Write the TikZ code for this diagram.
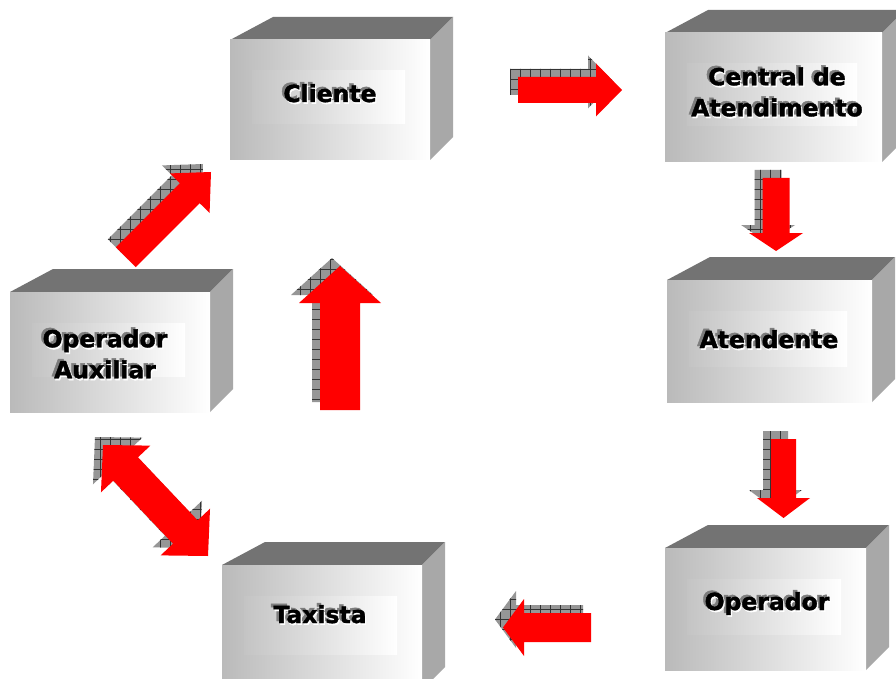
\documentclass[tikz,border=0pt]{standalone}
\usepackage{fontspec}
\setmainfont{DejaVu Sans}
\newfontfamily\lblfont{DejaVu Sans Bold}[FakeBold=1.6]
\usetikzlibrary{calc,patterns}
\pgfdeclarepatternformonly{hgrid}{\pgfpoint{-1pt}{-1pt}}{\pgfpoint{11pt}{11pt}}{\pgfpoint{10pt}{10pt}}{%
  \pgfsetlinewidth{0.7pt}%
  \pgfpathmoveto{\pgfpoint{0pt}{0pt}}\pgfpathlineto{\pgfpoint{10.1pt}{0pt}}%
  \pgfpathmoveto{\pgfpoint{0pt}{0pt}}\pgfpathlineto{\pgfpoint{0pt}{10.1pt}}%
  \pgfusepath{stroke}}
\definecolor{topc}{RGB}{115,115,115}
\definecolor{sidec}{RGB}{168,168,168}
\definecolor{facel}{RGB}{186,186,186}
\definecolor{innerl}{RGB}{196,196,196}
\definecolor{shgray}{RGB}{150,150,150}
\definecolor{txtsh}{RGB}{125,125,125}
\tikzset{
  topface/.style={fill=topc},
  sideface/.style={fill=sidec},
  frontface/.style={left color=facel, right color=white},
  innerface/.style={left color=innerl, right color=white},
  redarr/.style={fill=red},
  arrshadow/.style={fill=shgray, postaction={pattern=hgrid, pattern color=black!80}, transform canvas={shift={(-8pt,8pt)}}},
  lbl/.style={font=\lblfont\fontsize{23.5}{31}\selectfont, align=center, inner sep=0pt},
}
\newcommand\cube[4]{%
  \fill[topface] (#1,#2) -- (#1+43,#2-23) -- (#1+#3+23,#2-23) -- (#1+#3,#2) -- cycle;
  \fill[sideface] (#1+#3,#2) -- (#1+#3+23,#2-23) -- (#1+#3+23,#2+#4-23) -- (#1+#3,#2+#4) -- cycle;
  \fill[frontface] (#1,#2) rectangle (#1+#3,#2+#4);
  \fill[innerface] (#1+22,#2+31) rectangle (#1+#3-25,#2+#4-36);
}
\newcommand\boxlabel[4]{% name, anchor, position, text
  \node[lbl, anchor=#2, text=txtsh] at ($(#3)+(-2.5,-2)$) {#4};
  \node[lbl, anchor=#2, text=white] at ($(#3)+(1.2,1.8)$) {#4};
  \node[lbl, anchor=#2] (#1) at (#3) {#4};
}
\newcommand\sarrowpoly[5]{% style, tail, tip, half shaft, half head
  \path[#1] ($(#2)!#4!90:(#3)$) -- ($(#2-m)!#4!90:(#3)$) -- ($(#2-m)!#5!90:(#3)$) -- (#3)
    -- ($(#2-m)!#5!-90:(#3)$) -- ($(#2-m)!#4!-90:(#3)$) -- ($(#2)!#4!-90:(#3)$) -- cycle;
}
\newcommand\sarrow[5]{% tail, tip, half shaft, half head, head length
  \coordinate (#1-m) at ($(#2)!#5!(#1)$);
  \sarrowpoly{arrshadow}{#1}{#2}{#3}{#4}
  \sarrowpoly{redarr}{#1}{#2}{#3}{#4}
}
\newcommand\darrowpoly[5]{% style, end A, end B, half shaft, half head
  \path[#1] (#2) -- ($(#2-m)!#5!90:(#3)$) -- ($(#2-m)!#4!90:(#3)$) -- ($(#3-m)!#4!-90:(#2)$)
    -- ($(#3-m)!#5!-90:(#2)$) -- (#3) -- ($(#3-m)!#5!90:(#2)$) -- ($(#3-m)!#4!90:(#2)$)
    -- ($(#2-m)!#4!-90:(#3)$) -- ($(#2-m)!#5!-90:(#3)$) -- cycle;
}
\newcommand\darrow[5]{% end A, end B, half shaft, half head, head length
  \coordinate (#1-m) at ($(#1)!#5!(#2)$);
  \coordinate (#2-m) at ($(#2)!#5!(#1)$);
  \darrowpoly{arrshadow}{#1}{#2}{#3}{#4}
  \darrowpoly{redarr}{#1}{#2}{#3}{#4}
}
\begin{document}
\begin{tikzpicture}[x=1pt,y=-1pt]
\useasboundingbox (0,0) rectangle (896,679);
\clip (0,0) rectangle (896,679);
\fill[white] (0,0) rectangle (896,679);

% boxes
\cube{230}{40}{200}{120}
\cube{665}{33}{217}{129}
\cube{667}{280}{205}{122}
\cube{10}{292}{200}{120}
\cube{665}{548}{201}{122}
\cube{222}{565}{200}{125}

% labels
\boxlabel{cliente}{base}{330,102}{Cliente}
\boxlabel{central}{center}{777,92}{Central de\\Atendimento}
\boxlabel{atendente}{base}{769,348}{Atendente}
\boxlabel{opaux}{center}{105,354}{Operador\\Auxiliar}
\boxlabel{operador}{base}{767,610}{Operador}
\boxlabel{taxista}{base}{320,623}{Taxista}

% arrow end points
\coordinate (a1s) at (518,90);   \coordinate (a1e) at (622,90);
\coordinate (a2s) at (776,178);  \coordinate (a2e) at (776,251);
\coordinate (a3s) at (783.5,439);\coordinate (a3e) at (783.5,518);
\coordinate (a4s) at (591,627.5);\coordinate (a4e) at (503,627.5);
\coordinate (a6s) at (125.8,257.2); \coordinate (a6e) at (211,172);
\coordinate (a7s) at (340,410);  \coordinate (a7e) at (340,266);
\coordinate (a5a) at (103,445);  \coordinate (a5b) at (208,556);

\sarrow{a1s}{a1e}{13pt}{26.5pt}{26pt}
\sarrow{a2s}{a2e}{13.5pt}{27pt}{18pt}
\sarrow{a3s}{a3e}{12.5pt}{26.5pt}{20pt}
\sarrow{a4s}{a4e}{14.5pt}{28.5pt}{21pt}
\sarrow{a6s}{a6e}{14pt}{28pt}{30pt}
\sarrow{a7s}{a7e}{20pt}{41pt}{37pt}
\darrow{a5a}{a5b}{17pt}{34pt}{33pt}
\end{tikzpicture}
\end{document}
